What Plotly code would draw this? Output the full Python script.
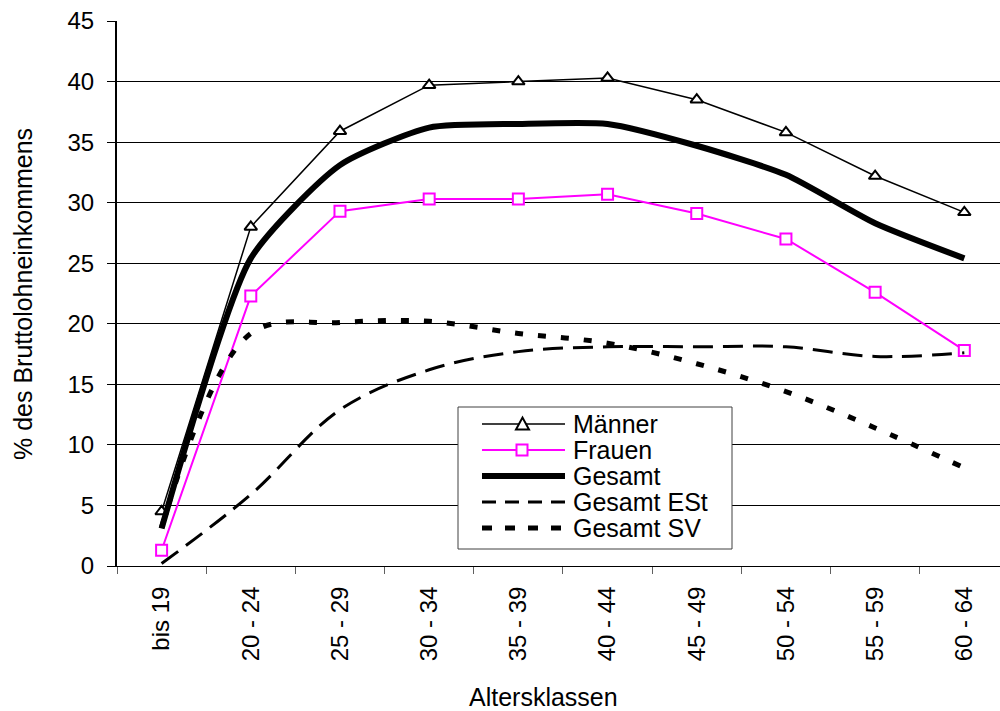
import plotly.graph_objects as go

# Age classes and shares of gross wage income (%)
categories = ["bis 19", "20 - 24", "25 - 29", "30 - 34", "35 - 39",
              "40 - 44", "45 - 49", "50 - 54", "55 - 59", "60 - 64"]
maenner = [4.5, 28.0, 35.9, 39.7, 40.0, 40.3, 38.5, 35.8, 32.2, 29.2]
frauen = [1.3, 22.3, 29.3, 30.3, 30.3, 30.7, 29.1, 27.0, 22.6, 17.8]
gesamt = [3.1, 25.4, 33.1, 36.2, 36.5, 36.5, 34.7, 32.3, 28.3, 25.4]
gesamt_est = [0.2, 5.9, 12.9, 16.2, 17.7, 18.1, 18.1, 18.1, 17.3, 17.6]
gesamt_sv = [3.2, 19.2, 20.1, 20.2, 19.2, 18.4, 16.7, 14.4, 11.4, 8.1]

FONT = "Arial, Liberation Sans, sans-serif"
W, H = 1000, 711
L, R, T, B = 117, 0, 21, 145
PW, PH = W - L - R, H - T - B


def px(x):
    return (x - L) / PW


def py(y):
    return (H - B - y) / PH


fig = go.Figure()

fig.add_trace(go.Scatter(
    x=categories, y=maenner, name="Männer", mode="lines+markers",
    line=dict(color="black", width=1.5),
    marker=dict(symbol="triangle-up", size=11, color="white",
                line=dict(color="black", width=2))))
fig.add_trace(go.Scatter(
    x=categories, y=frauen, name="Frauen", mode="lines+markers",
    line=dict(color="#FF00FF", width=2),
    marker=dict(symbol="square", size=11, color="white",
                line=dict(color="#FF00FF", width=2))))
fig.add_trace(go.Scatter(
    x=categories, y=gesamt, name="Gesamt", mode="lines",
    line=dict(color="black", width=6, shape="spline", smoothing=0.6)))
fig.add_trace(go.Scatter(
    x=categories, y=gesamt_est, name="Gesamt ESt", mode="lines",
    line=dict(color="black", width=3, dash="20px,10px",
              shape="spline", smoothing=1)))
fig.add_trace(go.Scatter(
    x=categories, y=gesamt_sv, name="Gesamt SV", mode="lines",
    line=dict(color="black", width=5, dash="8px,15px",
              shape="spline", smoothing=1)))

# Legend box drawn by hand
shapes = [dict(type="rect", xref="paper", yref="paper",
               x0=px(458), x1=px(732), y0=py(549), y1=py(407),
               line=dict(color="#404040", width=1), fillcolor="white",
               layer="above")]
annotations = []
legend_rows = [
    ("Männer", 424, dict(color="black", width=1.5), "tri"),
    ("Frauen", 450, dict(color="#FF00FF", width=2), "sq"),
    ("Gesamt", 476, dict(color="black", width=6), None),
    ("Gesamt ESt", 502, dict(color="black", width=3, dash="14px,9px"), None),
    ("Gesamt SV", 528, dict(color="black", width=5, dash="10px,13px"), None),
]
for label, yc, ln, mk in legend_rows:
    shapes.append(dict(type="line", xref="paper", yref="paper",
                       x0=px(482), x1=px(565), y0=py(yc), y1=py(yc),
                       line=ln, layer="above"))
    if mk == "tri":
        cx = 522.5
        path = (f"M{px(cx - 6.5)},{py(yc + 5.5)} L{px(cx + 6.5)},{py(yc + 5.5)} "
                f"L{px(cx)},{py(yc - 6.5)} Z")
        shapes.append(dict(type="path", xref="paper", yref="paper", path=path,
                           line=dict(color="black", width=2),
                           fillcolor="white", layer="above"))
    elif mk == "sq":
        cx = 522
        shapes.append(dict(type="rect", xref="paper", yref="paper",
                           x0=px(cx - 5.5), x1=px(cx + 5.5),
                           y0=py(yc + 5.5), y1=py(yc - 5.5),
                           line=dict(color="#FF00FF", width=2),
                           fillcolor="white", layer="above"))
    annotations.append(dict(xref="paper", yref="paper", x=px(571), y=py(yc),
                            xanchor="left", yanchor="middle", showarrow=False,
                            text=label, font=dict(family=FONT, size=25,
                                                  color="black")))

# Axis titles
annotations.append(dict(xref="paper", yref="paper", x=px(543), y=py(697),
                        xanchor="center", yanchor="middle", showarrow=False,
                        text="Altersklassen",
                        font=dict(family=FONT, size=25, color="black")))
annotations.append(dict(xref="paper", yref="paper", x=px(23), y=py(294),
                        xanchor="center", yanchor="middle", showarrow=False,
                        textangle=-90, text="% des Bruttolohneinkommens",
                        font=dict(family=FONT, size=25, color="black")))

fig.update_layout(
    width=W, height=H,
    margin=dict(l=L, r=R, t=T, b=B, pad=0),
    paper_bgcolor="white", plot_bgcolor="white",
    showlegend=False,
    font=dict(family=FONT, size=24, color="black"),
    shapes=shapes, annotations=annotations,
    xaxis=dict(type="category", range=[-0.5, 9.4], tickson="boundaries",
               ticks="outside", ticklen=7, tickcolor="#606060", tickwidth=1,
               showline=True, linecolor="black", linewidth=1,
               showgrid=False, zeroline=False, tickangle=-90,
               ticklabelstandoff=10,
               tickfont=dict(family=FONT, size=24, color="black")),
    yaxis=dict(range=[0, 45], dtick=5, tick0=0, ticks="outside", ticklen=8,
               tickcolor="black", tickwidth=1,
               showline=True, linecolor="black", linewidth=2,
               showgrid=True, gridcolor="black", gridwidth=1,
               zeroline=False, ticklabelstandoff=8,
               tickfont=dict(family=FONT, size=24, color="black")),
)

fig.write_html("out.html")
